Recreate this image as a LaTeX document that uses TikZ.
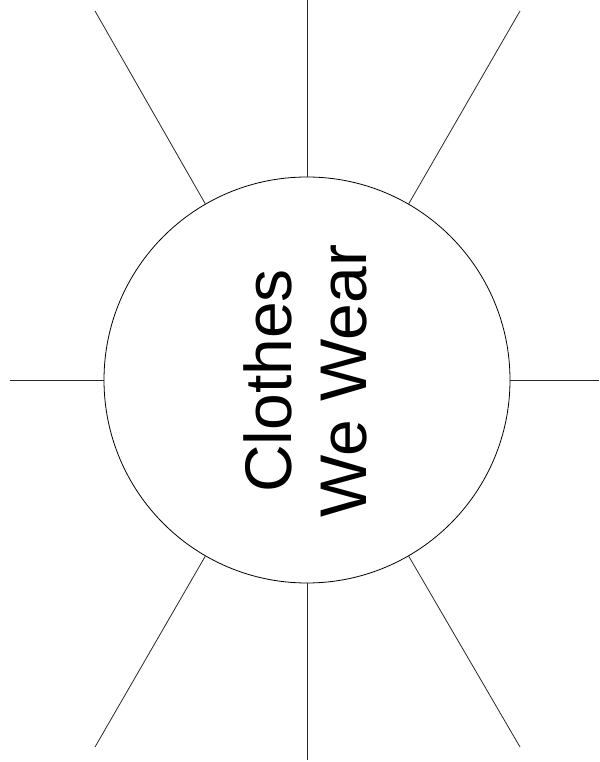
\documentclass[tikz,border=0pt]{standalone}
\usepackage{fontspec}
\setmainfont{Liberation Sans}
\usetikzlibrary{calc}

\begin{document}
\begin{tikzpicture}[
  x=1pt, y=1pt,
  hubcircle/.style={draw, circle, line width=0.8pt, minimum size=406pt, inner sep=0pt},
  title/.style={rotate=90, align=center, font=\fontsize{66}{75}\selectfont},
  ray/.style={line width=0.8pt, draw=black!85}
]
\useasboundingbox (0,0) rectangle (599,762);
\node[hubcircle] (hub) at (307,382) {};
\node[title] (label) at (305,381) {Clothes\\We Wear};

% outer ends of the rays
\coordinate (topend) at (307,762);
\coordinate (bottomend) at (307,2);
\coordinate (leftend) at (10,382);
\coordinate (rightend) at (599,382);
\coordinate (ulend) at (95,751);
\coordinate (urend) at (520,751);
\coordinate (llend) at (95,15);
\coordinate (lrend) at (520,15);

\draw[ray] (hub.90) -- (topend);
\draw[ray] (hub.270) -- (bottomend);
\draw[ray] (hub.180) -- (leftend);
\draw[ray] (hub.0) -- (rightend);
\draw[ray] (hub.120) -- (ulend);
\draw[ray] (hub.60) -- (urend);
\draw[ray] (hub.240) -- (llend);
\draw[ray] (hub.300) -- (lrend);
\end{tikzpicture}
\end{document}
